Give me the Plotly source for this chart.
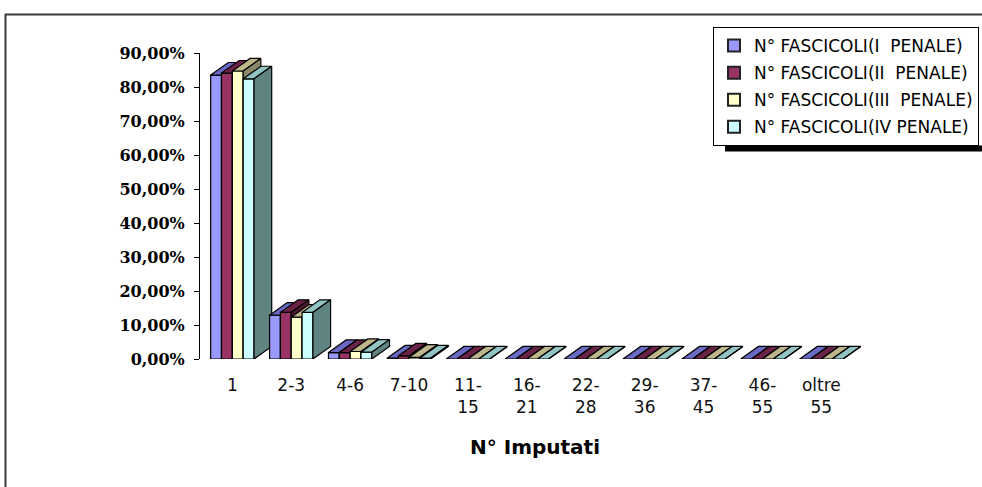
import plotly.graph_objects as go

# Number of defendants per case (grouped classes)
categories = ["1", "2-3", "4-6", "7-10", "11-15", "16-21", "22-28",
              "29-36", "37-45", "46-55", "oltre 55"]
tick_labels = ["1", "2-3", "4-6", "7-10", "11-<br>15", "16-<br>21", "22-<br>28",
               "29-<br>36", "37-<br>45", "46-<br>55", "oltre<br>55"]

series_names = ["N° FASCICOLI(I  PENALE)", "N° FASCICOLI(II  PENALE)",
                "N° FASCICOLI(III  PENALE)", "N° FASCICOLI(IV PENALE)"]

# Share of case files (%) per class, one list per criminal section
sez_i = [83.5, 12.9, 1.9, 0.3, 0.0, 0.0, 0.0, 0.0, 0.0, 0.0, 0.0]
sez_ii = [84.1, 13.7, 1.9, 0.9, 0.0, 0.0, 0.0, 0.0, 0.0, 0.0, 0.0]
sez_iii = [84.7, 12.3, 2.2, 0.5, 0.0, 0.0, 0.0, 0.0, 0.0, 0.0, 0.0]
sez_iv = [82.4, 13.7, 2.0, 0.3, 0.0, 0.0, 0.0, 0.0, 0.0, 0.0, 0.0]
series_values = [sez_i, sez_ii, sez_iii, sez_iv]

y_ticks = [0, 10, 20, 30, 40, 50, 60, 70, 80, 90]
y_tick_text = [f"{v:.2f}".replace(".", ",") + "%" for v in y_ticks]

# front / top / side colours for the pseudo-3D columns
front_colors = ["#9999FF", "#993366", "#FFFFCC", "#CCFFFF"]
top_colors = ["#6A6AC4", "#6A2246", "#BDB68A", "#93C4C4"]
side_colors = ["#55559A", "#4C1832", "#8A8668", "#5F8380"]

BAR_W = 0.184      # width of one column in category units
DEPTH_X = 0.30     # oblique depth, x component (category units)
DEPTH_Y = 3.7      # oblique depth, y component (percentage points)

fig = go.Figure()

n_series = len(series_values)
group_left = -BAR_W * n_series / 2

# draw left to right so that nearer faces cover the receding ones
for i in range(len(categories)):
    for j in range(n_series):
        v = series_values[j][i]
        x0 = i + group_left + j * BAR_W
        x1 = x0 + BAR_W
        faces = [
            ([x0, x1, x1, x0, x0], [0, 0, v, v, 0], front_colors[j]),
            ([x0, x1, x1 + DEPTH_X, x0 + DEPTH_X, x0],
             [v, v, v + DEPTH_Y, v + DEPTH_Y, v], top_colors[j]),
            ([x1, x1 + DEPTH_X, x1 + DEPTH_X, x1, x1],
             [0, DEPTH_Y, v + DEPTH_Y, v, 0], side_colors[j]),
        ]
        for fx, fy, col in faces:
            fig.add_trace(go.Scatter(
                x=fx, y=fy, mode="lines", fill="toself", fillcolor=col,
                line=dict(color="black", width=1.2), showlegend=False,
                hoverinfo="skip"))

# legend entries
for j, name in enumerate(series_names):
    fig.add_trace(go.Scatter(
        x=[None], y=[None], mode="markers", name=name,
        legendgroup=str(j),
        marker=dict(symbol="square", size=9, color=front_colors[j],
                    line=dict(color="#222222", width=1.5))))

PLOT_L, PLOT_R, PLOT_T, PLOT_B = 200, 869, 53, 359
W, H = 982, 487


def px_to_paper(px, py):
    return ((px - PLOT_L) / (PLOT_R - PLOT_L), (PLOT_B - py) / (PLOT_B - PLOT_T))


x_lo = (PLOT_L - 232.35) / 58.9
x_hi = (PLOT_R - 232.35) / 58.9

bx0, by0 = px_to_paper(5.5, 14.5)
bx1, by1 = px_to_paper(1010, 520)
leg_x, leg_y = px_to_paper(713, 27)
sh_x0, sh_y0 = px_to_paper(725, 145.5)
sh_x1, sh_y1 = px_to_paper(1010, 151.5)
title_x, title_y = px_to_paper(535, 447)

fig.update_layout(
    width=W, height=H,
    margin=dict(l=PLOT_L, r=W - PLOT_R, t=PLOT_T, b=H - PLOT_B,
                autoexpand=False),
    paper_bgcolor="white", plot_bgcolor="white",
    xaxis=dict(
        range=[x_lo, x_hi], tickmode="array",
        tickvals=list(range(len(categories))), ticktext=tick_labels,
        showgrid=False, zeroline=False, showline=False, ticks="",
        tickfont=dict(family="DejaVu Sans", size=17, color="#111111"),
        ticklabelstandoff=14, fixedrange=True),
    yaxis=dict(
        range=[0, 90], tickmode="array", tickvals=y_ticks,
        ticktext=y_tick_text,
        showgrid=False, zeroline=False, showline=True, linecolor="black",
        linewidth=1, ticks="outside", ticklen=5, tickcolor="black",
        tickfont=dict(family="DejaVu Serif", size=16, color="black",
                      weight="bold"),
        ticklabelstandoff=6, fixedrange=True),
    legend=dict(
        x=leg_x, y=leg_y, xanchor="left", yanchor="top",
        bgcolor="white", bordercolor="black", borderwidth=1,
        font=dict(family="DejaVu Sans", size=17, color="black"),
        tracegroupgap=2, itemsizing="constant"),
    annotations=[dict(
        text="<b>N° Imputati</b>", x=title_x, y=title_y,
        xref="paper", yref="paper", showarrow=False,
        xanchor="center", yanchor="middle",
        font=dict(family="DejaVu Sans", size=20, color="black"))],
    shapes=[
        # outer chart frame
        dict(type="rect", xref="paper", yref="paper",
             x0=bx0, y0=by0, x1=bx1, y1=by1,
             line=dict(color="#3a3a3a", width=2), layer="below"),
        # legend drop shadow
        dict(type="rect", xref="paper", yref="paper",
             x0=sh_x0, y0=sh_y1, x1=sh_x1, y1=sh_y0,
             fillcolor="black", line=dict(width=0), layer="above"),
    ],
)

fig.write_html("out.html")
